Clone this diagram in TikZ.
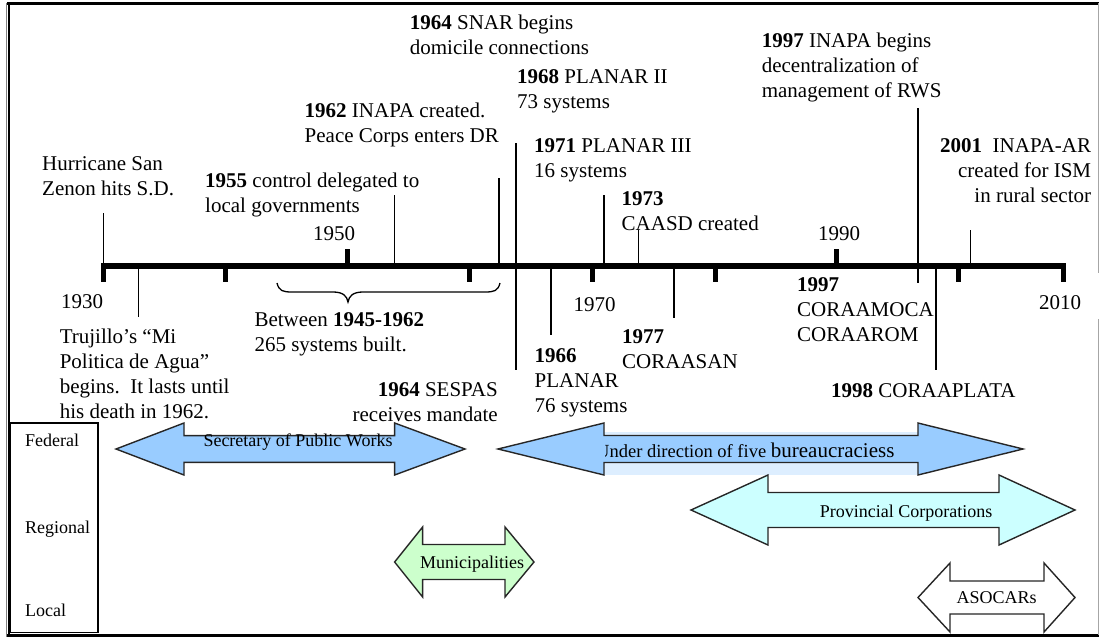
\documentclass[tikz,border=0pt]{standalone}
\usepackage{fontspec}
\setmainfont{Liberation Serif}
\definecolor{pwblue}{HTML}{99CCFF}
\definecolor{bandblue}{HTML}{DDEEFF}
\definecolor{provcyan}{HTML}{CCFFFF}
\definecolor{munigreen}{HTML}{CCFFCC}
\newcommand{\DArrow}[8]{%
  \draw[#1] (#2,#6) -- (#3,#6-#7) -- (#3,#6-#8) -- (#4,#6-#8) -- (#4,#6-#7) -- (#5,#6)
    -- (#4,#6+#7) -- (#4,#6+#8) -- (#3,#6+#8) -- (#3,#6+#7) -- cycle;}
\begin{document}
\begin{tikzpicture}[
  x=1pt, y=-1pt,
  lbl/.style={inner sep=0pt, anchor=north west, align=left, font=\fontsize{21}{25}\selectfont},
  lblr/.style={inner sep=0pt, anchor=north east, align=right, font=\fontsize{21}{25}\selectfont},
  yr/.style={inner sep=0pt, anchor=base, font=\fontsize{21}{25}\selectfont},
  sm/.style={inner sep=0pt, anchor=base, font=\fontsize{18}{22}\selectfont},
  smw/.style={inner sep=0pt, anchor=base west, font=\fontsize{18}{22}\selectfont},
  axisline/.style={line width=6.5pt},
  tk/.style={line width=5pt},
  ev/.style={line width=1.3pt},
  arr/.style={draw=black!85, line width=1.4pt, line join=miter},
]
\useasboundingbox (0,0) rectangle (1099,637);
% frame
\draw[line width=3pt] (7,3.3) -- (1099,3.3);
\draw[gray, line width=1pt] (6,3) -- (6,637);
\draw[line width=2pt] (8.7,2) -- (8.7,637);
\draw[line width=2.5pt] (7,635.5) -- (1099,635.5);
\draw[gray!70, line width=1pt] (1098.3,3) -- (1098.3,273) (1098.3,319) -- (1098.3,635);

% timeline
\draw[axisline] (101,266) -- (1066,266);
\foreach \x in {103.5,225.5,469,592,715,958,1063.5} \draw[tk] (\x,266) -- (\x,281.5);
\foreach \x in {347,836} \draw[tk] (\x,266) -- (\x,249);

% event lines
\draw[ev] (103.5,213) -- (103.5,266);
\draw[ev] (138.5,266) -- (138.5,317);
\draw[ev] (394.6,195) -- (394.6,266);
\draw[ev] (499,178) -- (499,266);
\draw[line width=1.8pt] (516,143) -- (516,370);
\draw[ev] (551,266) -- (551,335);
\draw[ev] (604,195) -- (604,266);
\draw[ev] (638.7,230) -- (638.7,266);
\draw[ev] (674,266) -- (674,318);
\draw[ev] (918,108) -- (918,283);
\draw[ev] (936,266) -- (936,370);
\draw[ev] (970.6,230) -- (970.6,266);

% brace
\draw[line width=1.3pt] (277,283) .. controls (279,291) and (283,292) .. (292,292) -- (333,292)
  .. controls (343,292) and (347,296) .. (348,302)
  .. controls (349,296) and (353,292) .. (363,292) -- (485,292)
  .. controls (494,292) and (498,291) .. (500,283);

% year labels
\node[yr] (y1930) at (82,308) {1930};
\node[yr] (y1950) at (334,240.7) {1950};
\node[yr] (y1970) at (594.5,311.7) {1970};
\node[yr] (y1990) at (839,240) {1990};
\node[yr] (y2010) at (1060,309) {2010};

% event texts above
\node[lbl] (hur) at (42,152.5) {\strut Hurricane San\\Zenon hits S.D.};
\node[lbl] (e55) at (205,169.5) {\strut\textbf{1955} control delegated to\\local governments};
\node[lbl] (e62) at (304.5,99.5) {\strut\textbf{1962} INAPA created.\\Peace Corps enters DR};
\node[lbl] (e64a) at (409.7,12) {\strut\textbf{1964} SNAR begins\\domicile connections};
\node[lbl] (e68) at (517,65.5) {\strut\textbf{1968} PLANAR II\\73 systems};
\node[lbl] (e71) at (534,134.5) {\strut\textbf{1971} PLANAR III\\16 systems};
\node[lbl] (e73) at (621.5,187.5) {\strut\textbf{1973}\\CAASD created};
\node[lbl] (e97a) at (761.6,29.5) {\strut\textbf{1997} INAPA begins\\decentralization of\\management of RWS};
\node[lblr] (e01) at (1091.3,134.5) {\strut\textbf{2001}\ \ INAPA-AR\\created for ISM\\in rural sector};

% event texts below
\node[lbl] (e97b) at (797,274.2) {\strut\textbf{1997}\\CORAAMOCA\\CORAAROM};
\node[lbl] (e77) at (622,325.8) {\strut\textbf{1977}\\CORAASAN};
\node[lbl] (e66) at (534.5,344.5) {\strut\textbf{1966}\\PLANAR\\76 systems};
\node[lbl, anchor=base west] (e98) at (831,397.3) {\textbf{1998} CORAAPLATA};
\node[lbl] (btw) at (254.3,309.2) {\strut Between \textbf{1945-1962}\\265 systems built.};
\node[lbl] (tru) at (59.6,325.8) {\strut Trujillo’s “Mi\\Politica de Agua”\\begins.\ \ It lasts until\\his death in 1962.};
\node[lblr] (e64b) at (498,379.2) {\strut\textbf{1964} SESPAS\\receives mandate};

% level box
\draw[line width=1.5pt] (10.5,423) rectangle (98,632.5);
\node[smw] (fed) at (25,446.7) {Federal};
\node[smw] (reg) at (25,533) {Regional};
\node[smw] (loc) at (25,616) {Local};

% arrows
\DArrow{arr, fill=pwblue}{116}{184}{394.6}{465}{449}{26}{13.4}
\node[sm] (spw) at (298,446.7) {Secretary of Public Works};

\fill[bandblue] (604,432) rectangle (918,474.5);
\DArrow{arr, fill=pwblue}{498}{604}{918}{1023}{449}{26}{13.5}
\begin{scope}
\clip (605,430) rectangle (918,470);
\node[inner sep=0pt, anchor=base west] (udf) at (596,457) {\fontsize{18.5}{22}\selectfont Under direction of five \fontsize{21}{25}\selectfont bureaucraciess};
\end{scope}

\DArrow{arr, fill=provcyan}{691}{768}{999}{1075}{510}{35}{17.5}
\node[sm] (prov) at (906,517) {Provincial Corporations};

\DArrow{arr, fill=munigreen}{394.6}{422.6}{505}{534}{562}{35}{17.5}
\node[sm] (muni) at (472,568) {Municipalities};

\DArrow{arr, fill=white}{918}{950}{1044}{1075}{597.5}{34.5}{16.5}
\node[sm] (aso) at (996.5,603) {ASOCARs};
\end{tikzpicture}
\end{document}
